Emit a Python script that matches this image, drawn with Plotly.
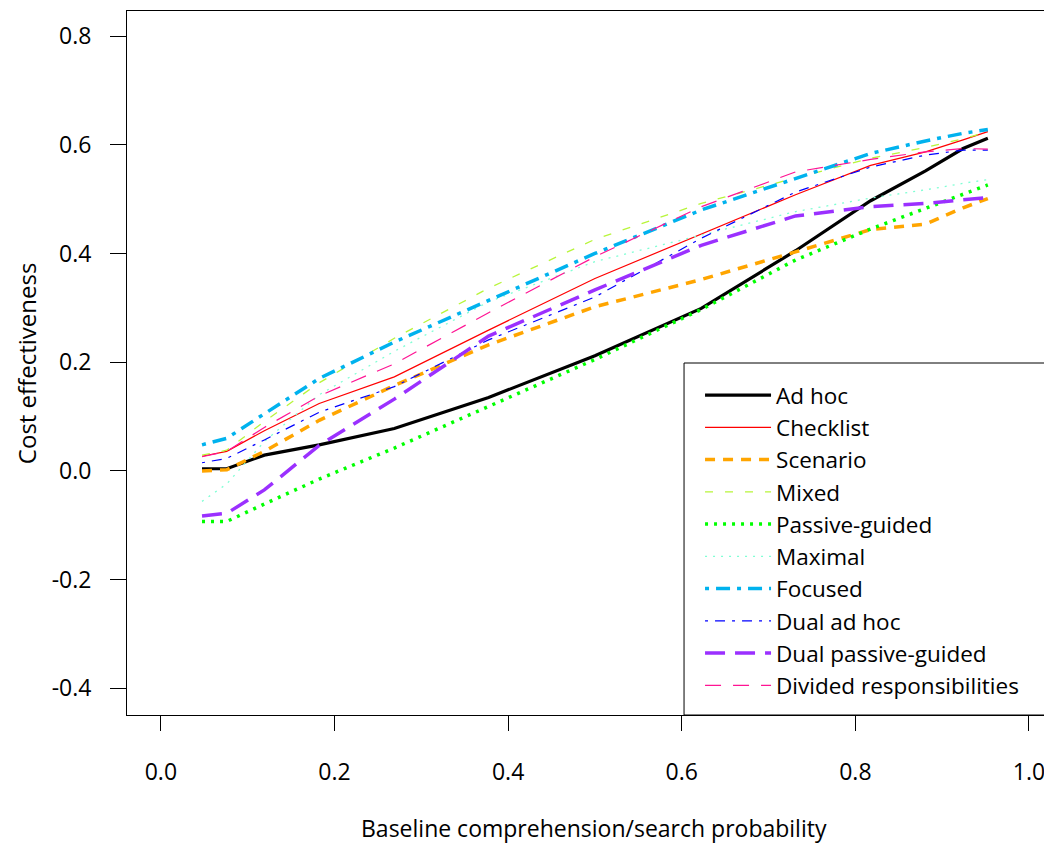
import plotly.graph_objects as go

# x grid: baseline comprehension/search probability
baseline_p = [0.0474, 0.0759, 0.1192, 0.1824, 0.2689, 0.3775, 0.5,
              0.6225, 0.7311, 0.8176, 0.8808, 0.9241, 0.9526]

ad_hoc = [0.004, 0.004, 0.029, 0.048, 0.078, 0.135, 0.212, 0.299, 0.405, 0.497, 0.552, 0.593, 0.612]
checklist = [0.027, 0.036, 0.074, 0.124, 0.173, 0.259, 0.354, 0.436, 0.508, 0.562, 0.587, 0.609, 0.624]
scenario = [0.000, 0.002, 0.036, 0.093, 0.157, 0.232, 0.302, 0.352, 0.403, 0.444, 0.454, 0.484, 0.501]
mixed = [0.029, 0.038, 0.091, 0.162, 0.244, 0.336, 0.426, 0.492, 0.539, 0.575, 0.595, 0.611, 0.624]
passive_guided = [-0.093, -0.093, -0.061, -0.015, 0.042, 0.118, 0.205, 0.297, 0.388, 0.445, 0.483, 0.510, 0.526]
maximal = [-0.056, -0.024, 0.054, 0.140, 0.220, 0.311, 0.385, 0.434, 0.477, 0.502, 0.517, 0.529, 0.536]
focused = [0.048, 0.060, 0.105, 0.170, 0.237, 0.314, 0.400, 0.480, 0.537, 0.584, 0.607, 0.621, 0.628]
dual_ad_hoc = [0.015, 0.023, 0.057, 0.108, 0.155, 0.241, 0.320, 0.428, 0.513, 0.559, 0.581, 0.590, 0.590]
dual_passive_guided = [-0.083, -0.078, -0.035, 0.047, 0.132, 0.248, 0.333, 0.415, 0.469, 0.486, 0.492, 0.498, 0.503]
divided = [0.026, 0.036, 0.080, 0.138, 0.197, 0.291, 0.394, 0.486, 0.550, 0.573, 0.587, 0.593, 0.592]

series_names = ["Ad hoc", "Checklist", "Scenario", "Mixed", "Passive-guided", "Maximal",
                "Focused", "Dual ad hoc", "Dual passive-guided", "Divided responsibilities"]
series_values = [ad_hoc, checklist, scenario, mixed, passive_guided, maximal,
                 focused, dual_ad_hoc, dual_passive_guided, divided]
series_colors = ["#000000", "#FF0000", "#FFA500", "#B8F53A", "#00FF00", "#7FFFD4",
                 "#00B2EE", "#0000FF", "#9B30FF", "#FF1493"]
series_widths = [3.2, 1.2, 3.5, 1.3, 3.5, 1.3, 3.5, 1.2, 3.5, 1.2]
series_dash = ["solid", "solid", "10px,8px", "8px,12px", "3px,6px", "2px,6px",
               "4px,7px,14px,7px", "3px,7px,10px,7px", "20px,10px", "16px,12px"]

x_ticks = [0.0, 0.2, 0.4, 0.6, 0.8, 1.0]
x_tick_text = ["0.0", "0.2", "0.4", "0.6", "0.8", "1.0"]
y_ticks = [-0.4, -0.2, 0.0, 0.2, 0.4, 0.6, 0.8]
y_tick_text = ["-0.4", "-0.2", "0.0", "0.2", "0.4", "0.6", "0.8"]

FONT = "Open Sans"

fig = go.Figure()
for name, vals, col, w, d in zip(series_names, series_values, series_colors, series_widths, series_dash):
    fig.add_trace(go.Scatter(x=baseline_p, y=vals, mode="lines", name=name,
                             line=dict(color=col, width=w, dash=d)))

# page body has an 8px margin: figure sits at (8,8) in the window
fig.update_layout(
    width=1044, height=836,
    margin=dict(l=119, r=0, t=3, b=129),
    plot_bgcolor="white", paper_bgcolor="white",
    font=dict(family=FONT, size=23, color="black"),
    showlegend=True,
    legend=dict(x=0.6195, y=0.4844, xanchor="left", yanchor="top",
                bgcolor="rgba(0,0,0,0)", borderwidth=0,
                font=dict(family=FONT, size=22.5, color="black"),
                tracegroupgap=0, itemwidth=66),
)
# legend frame (runs off the right edge like the original)
fig.add_shape(type="rect", xref="paper", yref="paper", x0=0.6022, x1=1.05, y0=0.0, y1=0.5,
              line=dict(color="black", width=1), fillcolor="white", layer="above")
fig.update_xaxes(range=[-0.039, 1.0265], showgrid=False, zeroline=False,
                 showline=True, linecolor="black", linewidth=1, mirror=True,
                 ticks="outside", ticklen=15, tickcolor="black", tickwidth=1,
                 tickvals=x_ticks, ticktext=x_tick_text, ticklabelstandoff=21,
                 tickfont=dict(family=FONT, size=23))
fig.update_yaxes(range=[-0.449, 0.846], showgrid=False, zeroline=False,
                 showline=True, linecolor="black", linewidth=1, mirror=False,
                 ticks="outside", ticklen=16, tickcolor="black", tickwidth=1,
                 tickvals=y_ticks, ticktext=y_tick_text, ticklabelstandoff=14,
                 tickfont=dict(family=FONT, size=23))
fig.add_annotation(text="Baseline comprehension/search probability", xref="paper", yref="paper",
                   x=0.505, y=-0.1605, xanchor="center", yanchor="middle", showarrow=False,
                   font=dict(family=FONT, size=23))
fig.add_annotation(text="Cost effectiveness", xref="paper", yref="paper",
                   x=-0.109, y=0.5, xanchor="center", yanchor="middle", showarrow=False,
                   textangle=-90, font=dict(family=FONT, size=24))

fig.write_html("out.html")
